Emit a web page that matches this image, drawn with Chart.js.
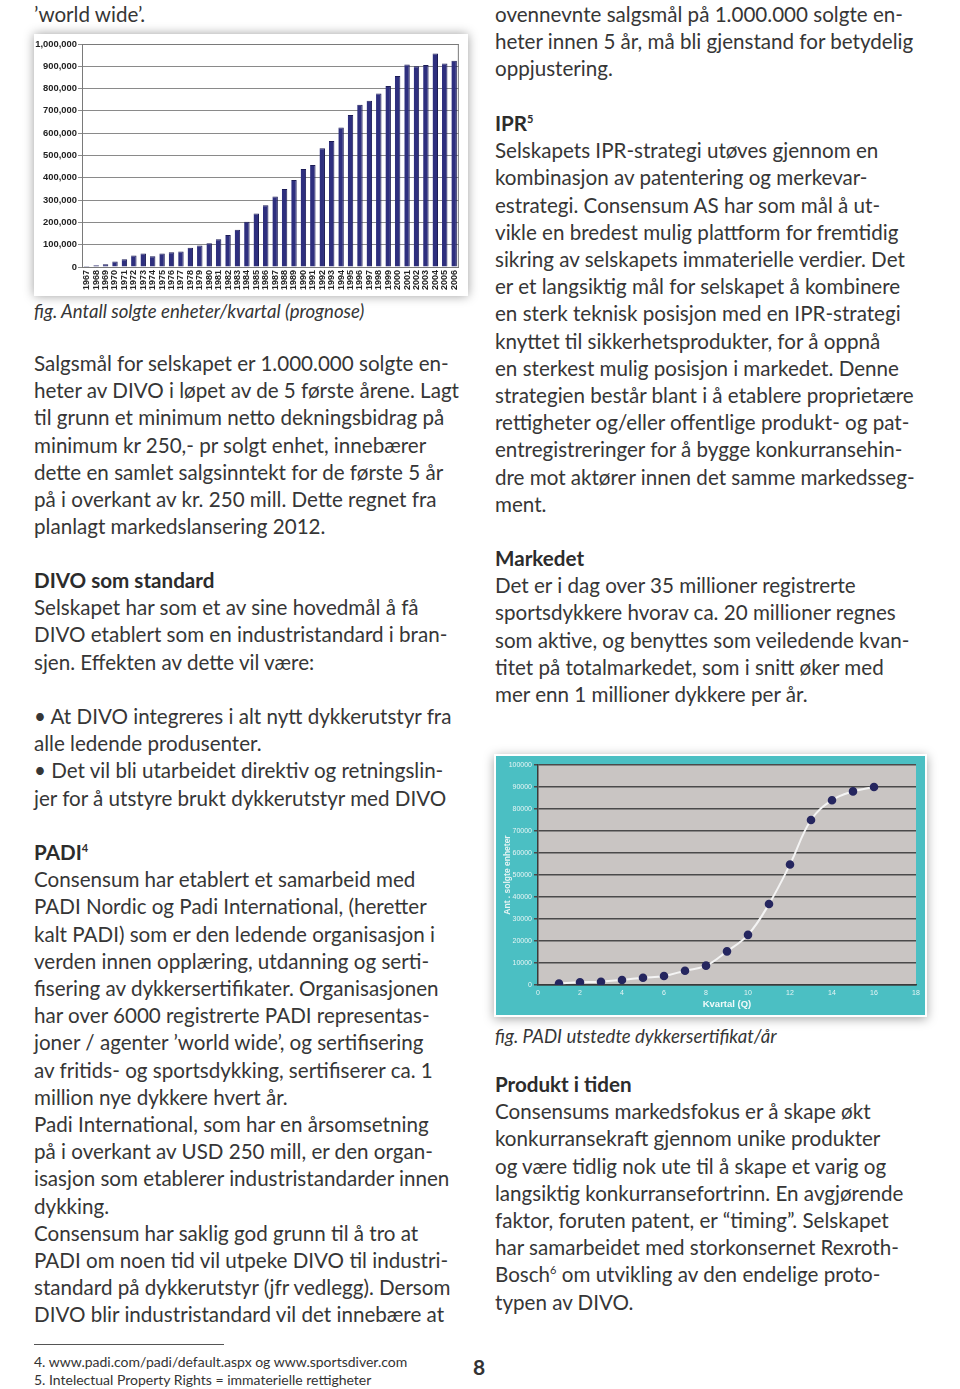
<!DOCTYPE html>
<html>
<head>
<meta charset="utf-8">
<script src="https://cdn.jsdelivr.net/npm/chart.js"></script>
<style>
  body { margin: 0; background: #fff; width: 960px; height: 1389px; position: relative; overflow: hidden;
         font-family: Lato, "Open Sans", sans-serif; color: #363636; }
  .blk { position: absolute; font-size: 20.6px; line-height: 27.2px; white-space: nowrap; }
  .blk b { font-weight: 700; color: #2c2c2c; }
  .blk sup { font-size: 11px; line-height: 0; vertical-align: 8px; }
  .cap { position: absolute; font-size: 18.6px; font-style: italic; white-space: nowrap; line-height: 22px; }
  #barBox { position: absolute; left: 34px; top: 34px; width: 434px; height: 262px; background: #fff;
            box-shadow: 0 0 10px rgba(0,0,0,0.38); }
  #lineBox { position: absolute; left: 494px; top: 754px; width: 433px; height: 263px; box-sizing: border-box;
             border: 2px solid #fff; background: #4bbfc3; box-shadow: 0 2px 10px rgba(0,0,0,0.35); }
  .foot { position: absolute; left: 34px; font-size: 14px; line-height: 18px; white-space: nowrap; color: #333; }
</style>
</head>
<body>

<div class="blk" style="left:34px;top:1px">’world wide’.</div>

<div id="barBox"><canvas id="chart-bar-divers" width="434" height="262"></canvas></div>

<div class="cap" style="left:34px;top:300px">fig. Antall solgte enheter/kvartal (prognose)</div>

<div class="blk" style="left:34px;top:350px">
Salgsmål for selskapet er 1.000.000 solgte en-<br>
heter av DIVO i løpet av de 5 første årene. Lagt<br>
til grunn et minimum netto dekningsbidrag på<br>
minimum kr 250,- pr solgt enhet, innebærer<br>
dette en samlet salgsinntekt for de første 5 år<br>
på i overkant av kr. 250 mill. Dette regnet fra<br>
planlagt markedslansering 2012.
</div>

<div class="blk" style="left:34px;top:567px">
<b>DIVO som standard</b><br>
Selskapet har som et av sine hovedmål å få<br>
DIVO etablert som en industristandard i bran-<br>
sjen. Effekten av dette vil være:
</div>

<div class="blk" style="left:34px;top:703px">
• At DIVO integreres i alt nytt dykkerutstyr fra<br>
alle ledende produsenter.<br>
• Det vil bli utarbeidet direktiv og retningslin-<br>
jer for å utstyre brukt dykkerutstyr med DIVO
</div>

<div class="blk" style="left:34px;top:839px">
<b>PADI<sup>4</sup></b><br>
Consensum har etablert et samarbeid med<br>
PADI Nordic og Padi International, (heretter<br>
kalt PADI) som er den ledende organisasjon i<br>
verden innen opplæring, utdanning og serti-<br>
fisering av dykkersertifikater. Organisasjonen<br>
har over 6000 registrerte PADI representas-<br>
joner / agenter ’world wide’, og sertifisering<br>
av fritids- og sportsdykking, sertifiserer ca. 1<br>
million nye dykkere hvert år.<br>
Padi International, som har en årsomsetning<br>
på i overkant av USD 250 mill, er den organ-<br>
isasjon som etablerer industristandarder innen<br>
dykking.<br>
Consensum har saklig god grunn til å tro at<br>
PADI om noen tid vil utpeke DIVO til industri-<br>
standard på dykkerutstyr (jfr vedlegg). Dersom<br>
DIVO blir industristandard vil det innebære at
</div>

<div style="position:absolute;left:34px;top:1344px;width:190px;height:1px;background:#555"></div>
<div class="foot" style="top:1353px">4. www.padi.com/padi/default.aspx og www.sportsdiver.com</div>
<div class="foot" style="top:1371px">5. Intelectual Property Rights = immaterielle rettigheter</div>
<div style="position:absolute;left:473px;top:1354px;font-size:21px;font-weight:700;color:#333">8</div>

<div class="blk" style="left:495px;top:1px">
ovennevnte salgsmål på 1.000.000 solgte en-<br>
heter innen 5 år, må bli gjenstand for betydelig<br>
oppjustering.
</div>

<div class="blk" style="left:495px;top:110px">
<b>IPR<sup>5</sup></b><br>
Selskapets IPR-strategi utøves gjennom en<br>
kombinasjon av patentering og merkevar-<br>
estrategi. Consensum AS har som mål å ut-<br>
vikle en bredest mulig plattform for fremtidig<br>
sikring av selskapets immaterielle verdier. Det<br>
er et langsiktig mål for selskapet å kombinere<br>
en sterk teknisk posisjon med en IPR-strategi<br>
knyttet til sikkerhetsprodukter, for å oppnå<br>
en sterkest mulig posisjon i markedet. Denne<br>
strategien består blant i å etablere proprietære<br>
rettigheter og/eller offentlige produkt- og pat-<br>
entregistreringer for å bygge konkurransehin-<br>
dre mot aktører innen det samme markedsseg-<br>
ment.
</div>

<div class="blk" style="left:495px;top:545px">
<b>Markedet</b><br>
Det er i dag over 35 millioner registrerte<br>
sportsdykkere hvorav ca. 20 millioner regnes<br>
som aktive, og benyttes som veiledende kvan-<br>
titet på totalmarkedet, som i snitt øker med<br>
mer enn 1 millioner dykkere per år.
</div>

<div id="lineBox"><canvas id="chart-line-padi" width="429" height="259"></canvas></div>

<div class="cap" style="left:495px;top:1025px">fig. PADI utstedte dykkersertifikat/år</div>

<div class="blk" style="left:495px;top:1071px">
<b>Produkt i tiden</b><br>
Consensums markedsfokus er å skape økt<br>
konkurransekraft gjennom unike produkter<br>
og være tidlig nok ute til å skape et varig og<br>
langsiktig konkurransefortrinn. En avgjørende<br>
faktor, foruten patent, er “timing”. Selskapet<br>
har samarbeidet med storkonsernet Rexroth-<br>
Bosch<sup>6</sup> om utvikling av den endelige proto-<br>
typen av DIVO.
</div>

<script>
// bar chart data (per year)
const years = [
  "1967", "1968", "1969", "1970", "1971", "1972", "1973", "1974", "1975", "1976",
  "1977", "1978", "1979", "1980", "1981", "1982", "1983", "1984", "1985", "1986",
  "1987", "1988", "1989", "1990", "1991", "1992", "1993", "1994", "1995", "1996",
  "1997", "1998", "1999", "2000", "2001", "2002", "2003", "2004", "2005", "2006"
];
const certificates = [
  5000, 8000, 12000, 25000, 35000, 52000, 60000, 48000, 60000, 66000,
  70000, 86000, 96000, 106000, 125000, 143000, 167000, 203000, 240000, 277000,
  316000, 350000, 390000, 440000, 457000, 532000, 565000, 626000, 682000, 728000,
  746000, 778000, 812000, 857000, 908000, 900000, 906000, 957000, 913000, 925000
];

// line chart data (per quarter)
const quarters = [1, 2, 3, 4, 5, 6, 7, 8, 9, 10, 11, 12, 13, 14, 15, 16];
const unitsSold = [
  700, 1200, 1500, 2300, 3300, 4100, 6500, 8800,
  15300, 22800, 36800, 54800, 75000, 84000, 88000, 90000
];

const plotFrame = {
  id: "plotFrame",
  beforeDraw(chart, args, opts) {
    const { ctx, chartArea: a } = chart;
    ctx.save();
    if (opts.fill) {
      ctx.fillStyle = opts.fill;
      ctx.fillRect(a.left, a.top, a.right - a.left, a.bottom - a.top);
    }
    ctx.restore();
  },
  afterDatasetsDraw(chart, args, opts) {
    const { ctx, chartArea: a } = chart;
    if (!opts.stroke) return;
    ctx.save();
    ctx.strokeStyle = opts.stroke;
    ctx.lineWidth = 1;
    ctx.strokeRect(a.left + 0.5, a.top + 0.5, a.right - a.left - 1, a.bottom - a.top);
    ctx.restore();
  },
};

function createBarChart() {
  new Chart(document.getElementById("chart-bar-divers"), {
    type: "bar",
    data: {
      labels: years,
      datasets: [
        {
          data: certificates,
          backgroundColor: "#2e2f7e",
          borderColor: "#1c1c55",
          borderWidth: { left: 0, right: 1, top: 1, bottom: 0 },
          barPercentage: 0.58,
          categoryPercentage: 1,
        },
      ],
    },
    plugins: [plotFrame],
    options: {
      responsive: false,
      animation: false,
      layout: { padding: { top: 10, right: 5 } },
      plugins: {
        legend: { display: false },
        tooltip: { enabled: false },
        plotFrame: { stroke: "#7a7a7a" },
      },
      scales: {
        x: {
          grid: { display: false, drawTicks: false },
          border: { color: "#555" },
          ticks: {
            autoSkip: false,
            minRotation: 90,
            maxRotation: 90,
            padding: 3,
            color: "#222",
            font: { family: "Liberation Sans", size: 9, weight: "bold" },
          },
          afterFit: (scale) => (scale.height = 29),
        },
        y: {
          min: 0,
          max: 1000000,
          grid: { color: "#8a8a8a", tickLength: 4 },
          border: { color: "#555" },
          ticks: {
            stepSize: 100000,
            padding: 1,
            color: "#222",
            font: { family: "Liberation Sans", size: 9.4, weight: "bold" },
            callback: (v) => v.toLocaleString("en-US"),
          },
          afterFit: (scale) => (scale.width = 48),
        },
      },
    },
  });
}

function createLineChart() {
  new Chart(document.getElementById("chart-line-padi"), {
    type: "line",
    data: {
      datasets: [
        {
          data: quarters.map((q, i) => ({ x: q, y: unitsSold[i] })),
          borderColor: "#f4f4f4",
          borderWidth: 2,
          tension: 0.4,
          pointRadius: 3.3,
          pointBackgroundColor: "#25265f",
          pointBorderColor: "#25265f",
          fill: false,
        },
      ],
    },
    plugins: [plotFrame],
    options: {
      responsive: false,
      animation: false,
      layout: { padding: { top: 9, right: 9 } },
      plugins: {
        legend: { display: false },
        tooltip: { enabled: false },
        plotFrame: { fill: "#c9c5c3" },
      },
      scales: {
        x: {
          type: "linear",
          min: 0,
          max: 18,
          grid: { display: false, drawTicks: false },
          border: { color: "#3a3a3a", width: 1.5 },
          ticks: {
            stepSize: 2,
            padding: 4,
            color: "#e6f4f4",
            font: { family: "Liberation Sans", size: 7 },
          },
          title: {
            display: true,
            text: "Kvartal (Q)",
            color: "#f2fafa",
            padding: { top: 0, bottom: 5 },
            font: { family: "Liberation Sans", size: 9.5, weight: "bold" },
          },
          afterFit: (scale) => (scale.height = 30),
        },
        y: {
          min: 0,
          max: 100000,
          grid: { color: "#4a4a4a", lineWidth: 1.5, tickLength: 4 },
          border: { color: "#3a3a3a", width: 1.5 },
          ticks: {
            stepSize: 10000,
            padding: 2,
            color: "#e6f4f4",
            font: { family: "Liberation Sans", size: 7 },
            callback: (v) => String(v),
          },
          title: {
            display: true,
            text: "Ant . solgte enheter",
            color: "#e6f4f4",
            padding: { top: 7, bottom: 0 },
            font: { family: "Liberation Sans", size: 8.5, weight: "bold" },
          },
          afterFit: (scale) => (scale.width = 42),
        },
      },
    },
  });
}

createBarChart();
createLineChart();
</script>
</body>
</html>
